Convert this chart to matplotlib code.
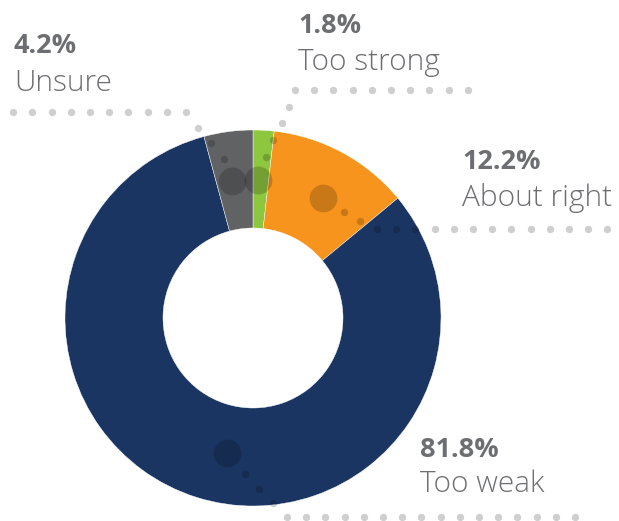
import matplotlib
matplotlib.use("Agg")
import matplotlib.pyplot as plt
import numpy as np

# -----------------------------
# DATA
# -----------------------------
labels = ["Too strong", "About right", "Too weak", "Unsure"]
shares = [1.8, 12.2, 81.8, 4.2]
colors = ["#8dc63f", "#f7941d", "#1b3563", "#616264"]

# -----------------------------
# LAYOUT (pixel coordinates, y grows downward)
# -----------------------------
W, H = 619, 521
CENTER = (253, 318)
R_OUT, R_IN = 188, 90
TEXT_COLOR = "#6d6e71"
FONT = ["Open Sans", "DejaVu Sans"]

# leader decoration per label: dots on the slice, then the dotted guide line
leaders = {
    "Too strong": dict(big=(258, 180), small=[(266, 157), (273, 140)],
                       path=[(282, 123), (289, 107)], row=(295, 468, 90)),
    "About right": dict(big=(323, 198), small=[(344, 212), (360, 221)],
                        path=[], row=(377, 615, 229)),
    "Too weak": dict(big=(227, 453), small=[(245, 474), (259, 489), (273, 503)],
                     path=[], row=(287, 576, 517)),
    "Unsure": dict(big=(232, 181), small=[(224, 159), (211, 143)],
                   path=[(198, 128)], row=(186, 15, 112)),
}
# text anchors: (x, percent baseline, label baseline)
text_pos = {
    "Too strong": (298, 33, 70),
    "About right": (462, 169, 206),
    "Too weak": (420, 457, 492),
    "Unsure": (14, 53, 91),
}

fig = plt.figure(figsize=(W / 100, H / 100), dpi=100)
ax = fig.add_axes([0, 0, 1, 1])

# y inverted -> counterclock in data coords is clockwise on screen
ax.pie(shares, colors=colors, center=CENTER, radius=R_OUT,
       startangle=-90, counterclock=True,
       wedgeprops=dict(width=R_OUT - R_IN, edgecolor="white", linewidth=0.3))

ax.set_xlim(0, W)
ax.set_ylim(H, 0)
ax.set_aspect("auto")
ax.axis("off")

DOT = dict(color="black", alpha=0.19, linewidths=0, zorder=5)
for name in labels:
    ld = leaders[name]
    ax.scatter([ld["big"][0]], [ld["big"][1]], s=400, **DOT)
    pts = ld["small"] + ld["path"]
    ax.scatter([p[0] for p in pts], [p[1] for p in pts], s=28, **DOT)
    x0, x1, y = ld["row"]
    n = int(round(abs(x1 - x0) / 19.2))
    xs = np.linspace(x0, x0 + np.sign(x1 - x0) * 19.2 * n, n + 1)
    ax.scatter(xs, np.full_like(xs, y), s=28, **DOT)

    tx, yp, yl = text_pos[name]
    share = shares[labels.index(name)]
    ax.text(tx, yp, f"{share:.1f}%", fontsize=19.5, fontweight="bold",
            color=TEXT_COLOR, family=FONT, va="baseline", ha="left")
    ax.text(tx, yl, name, fontsize=21.5, fontweight="light",
            color=TEXT_COLOR, family=FONT, va="baseline", ha="left")

fig.savefig("out.png", dpi=100)
